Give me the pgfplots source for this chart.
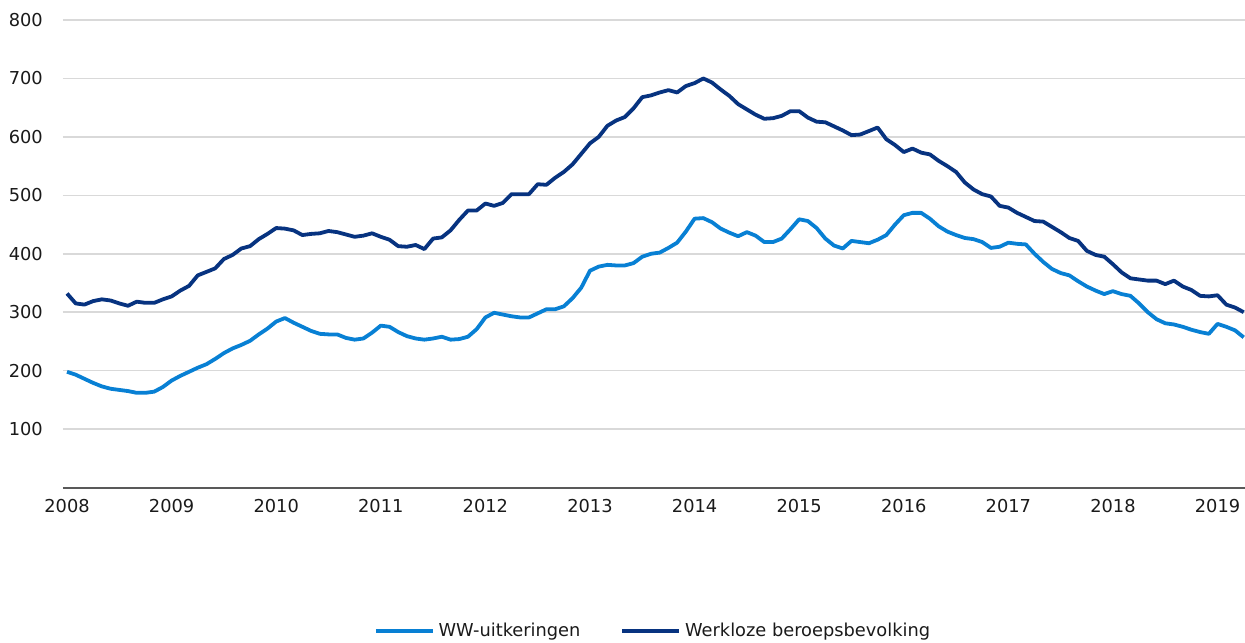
\documentclass[border=0pt]{standalone}
\usepackage{pgfplots}
\pgfplotsset{compat=1.18}
\usepackage{pgfplotstable}
\usepackage{fontspec}
\setmainfont{DejaVu Sans}
\definecolor{wwblue}{RGB}{8,128,212}
\definecolor{wbnavy}{RGB}{7,51,128}
\definecolor{gridgray}{RGB}{217,217,217}
\definecolor{axisgray}{RGB}{89,89,89}
\definecolor{txt}{RGB}{26,26,26}
\pgfplotstableread{
m ww wb
0 198 332
1 193 315
2 186 313
3 179 319
4 173 322
5 169 320
6 167 315
7 165 311
8 162 318
9 162 316
10 164 316
11 172 322
12 183 327
13 191 337
14 198 345
15 205 363
16 211 369
17 220 375
18 230 391
19 238 398
20 244 409
21 251 413
22 262 425
23 272 434
24 284 444
25 290 443
26 282 440
27 275 432
28 268 434
29 263 435
30 262 439
31 262 437
32 256 433
33 253 429
34 255 431
35 265 435
36 277 429
37 275 424
38 266 413
39 259 412
40 255 415
41 253 408
42 255 426
43 258 428
44 253 440
45 254 458
46 258 474
47 271 474
48 291 486
49 299 482
50 296 487
51 293 502
52 291 502
53 291 502
54 298 519
55 305 518
56 305 530
57 310 540
58 324 553
59 342 571
60 371 589
61 378 600
62 381 619
63 380 628
64 380 634
65 384 649
66 395 668
67 400 671
68 402 676
69 410 680
70 419 676
71 438 687
72 460 692
73 461 700
74 454 693
75 443 681
76 436 670
77 430 656
78 437 647
79 431 638
80 420 631
81 420 632
82 426 636
83 442 644
84 459 644
85 456 633
86 444 626
87 426 625
88 414 618
89 409 611
90 422 603
91 420 604
92 418 610
93 424 616
94 432 596
95 450 586
96 466 574
97 470 580
98 470 573
99 460 570
100 447 559
101 438 550
102 432 540
103 427 522
104 425 510
105 420 502
106 410 498
107 412 482
108 419 479
109 417 470
110 416 463
111 400 456
112 386 455
113 374 446
114 367 437
115 363 427
116 353 422
117 344 405
118 337 398
119 331 395
120 336 382
121 331 368
122 328 358
123 315 356
124 300 354
125 288 354
126 281 348
127 279 354
128 275 344
129 270 338
130 266 328
131 263 327
132 280 329
133 275 313
134 269 308
135 257 300
}\datatable
\begin{document}
\begin{tikzpicture}
\begin{axis}[
  at={(0,0)}, anchor=south west,
  scale only axis,
  width=591pt, height=233.75pt,
  xmin=-0.46, xmax=135.15,
  ymin=0, ymax=800,
  xtick={0,12,...,132},
  xticklabels={2008,2009,2010,2011,2012,2013,2014,2015,2016,2017,2018,2019},
  ytick={100,200,...,800},
  major tick length=0pt,
  axis x line*=bottom,
  axis y line*=left,
  x axis line style={axisgray, line width=1pt, -},
  y axis line style={draw=none},
  ymajorgrids,
  grid style={gridgray, line width=0.75pt},
  /pgf/number format/assume math mode=true,
  tick label style={font=\fontsize{8.9}{10}\selectfont, text=txt},
  xticklabel style={yshift=-2.6pt},
  yticklabel style={xshift=-6.6pt},
  legend columns=2,
  legend style={at={(axis description cs:0.5,-0.307)}, anchor=center, draw=none, fill=none,
    font=\fontsize{8.9}{10}\selectfont, text=txt,
    /tikz/every even column/.append style={column sep=18pt},
    inner sep=0pt},
  legend cell align=left,
  legend image code/.code={\draw[#1, line width=1.9pt] (0cm,0cm) -- (1.0cm,0cm);},
]
\addplot[wwblue, line width=1.9pt, line join=round] table[x=m, y=ww] {\datatable};
\addlegendentry{WW-uitkeringen}
\addplot[wbnavy, line width=1.9pt, line join=round] table[x=m, y=wb] {\datatable};
\addlegendentry{Werkloze beroepsbevolking}
\end{axis}
\pgfresetboundingbox
\path (-31.5pt,-77.25pt) rectangle (591pt,243.75pt);
\end{tikzpicture}
\end{document}
